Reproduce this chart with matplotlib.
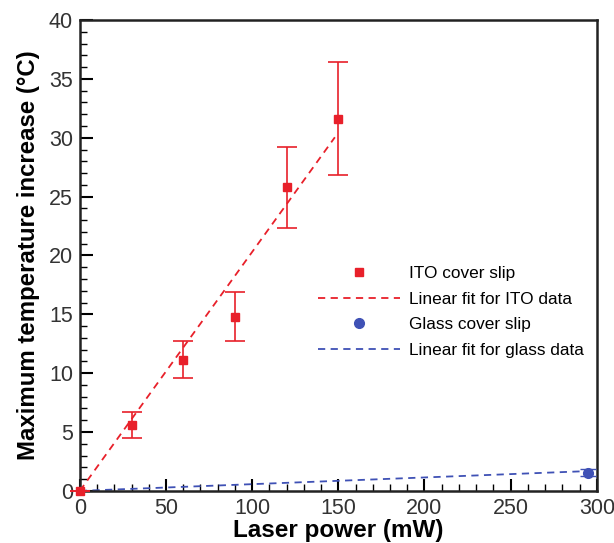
import numpy as np
import matplotlib.pyplot as plt
from matplotlib.ticker import MultipleLocator
from matplotlib.lines import Line2D

plt.rcParams['font.family'] = ['Liberation Sans', 'DejaVu Sans']

# ITO cover slip data
ito_power = [0, 30, 60, 90, 120, 150]
ito_temp = [0, 5.6, 11.1, 14.8, 25.8, 31.6]
ito_err_low = [0, 1.1, 1.5, 2.1, 3.5, 4.8]
ito_err_high = [0, 1.1, 1.6, 2.1, 3.4, 4.8]
ito_slope = 0.203

# Glass cover slip data
glass_power = [295]
glass_temp = [1.55]
glass_err = [0.3]
glass_slope = 0.0057

red = '#e8202a'
blue = '#3f51b5'

fig = plt.figure(figsize=(6.14, 5.43), dpi=100)
ax = fig.add_axes([0.130, 0.096, 0.842, 0.867])

# linear fits
x_ito = np.array([0, 148])
ax.plot(x_ito, ito_slope * x_ito, '--', color=red, lw=1.3, dashes=(4, 3), zorder=2)
x_gl = np.array([0, 295])
ax.plot(x_gl, glass_slope * x_gl, '--', color=blue, lw=1.3, dashes=(4, 3), zorder=2)

ax.errorbar(ito_power, ito_temp, yerr=[ito_err_low, ito_err_high], fmt='s', color=red,
            ms=6, capsize=7, elinewidth=1.2, capthick=1.2, clip_on=False, zorder=3)
ax.errorbar(glass_power, glass_temp, yerr=glass_err, fmt='o', color=blue,
            ms=7, capsize=6, elinewidth=1.0, capthick=1.0, clip_on=False, zorder=3)

ax.set_xlim(0, 300)
ax.set_ylim(0, 40)
ax.xaxis.set_major_locator(MultipleLocator(50))
ax.xaxis.set_minor_locator(MultipleLocator(10))
ax.yaxis.set_major_locator(MultipleLocator(5))
ax.yaxis.set_minor_locator(MultipleLocator(1))
ax.tick_params(which='major', direction='in', length=9, width=1.5, labelsize=15.5,
               labelcolor='#333333', pad=5)
ax.tick_params(which='minor', direction='in', length=5, width=1.0)
for s in ax.spines.values():
    s.set_linewidth(1.8)
    s.set_color('#222222')

ax.set_xlabel('Laser power (mW)', fontsize=17.5, fontweight='bold', labelpad=0)
ax.set_ylabel('Maximum temperature increase (°C)', fontsize=17.3, fontweight='bold', labelpad=6)

labels = ['ITO cover slip', 'Linear fit for ITO data', 'Glass cover slip', 'Linear fit for glass data']
handles = [
    Line2D([], [], marker='s', color=red, ls='none', ms=6),
    Line2D([], [], color=red, ls='--', dashes=(4, 3), lw=1.3),
    Line2D([], [], marker='o', color=blue, ls='none', ms=7),
    Line2D([], [], color=blue, ls='--', dashes=(4, 3), lw=1.3),
]
leg = ax.legend(handles, labels, loc='center left', bbox_to_anchor=(0.43, 0.38),
                frameon=False, fontsize=12.4, handlelength=4.8, handletextpad=0.5,
                labelspacing=0.62)
for t in leg.get_texts():
    t.set_fontweight('medium')

fig.savefig('out.png', dpi=100)
